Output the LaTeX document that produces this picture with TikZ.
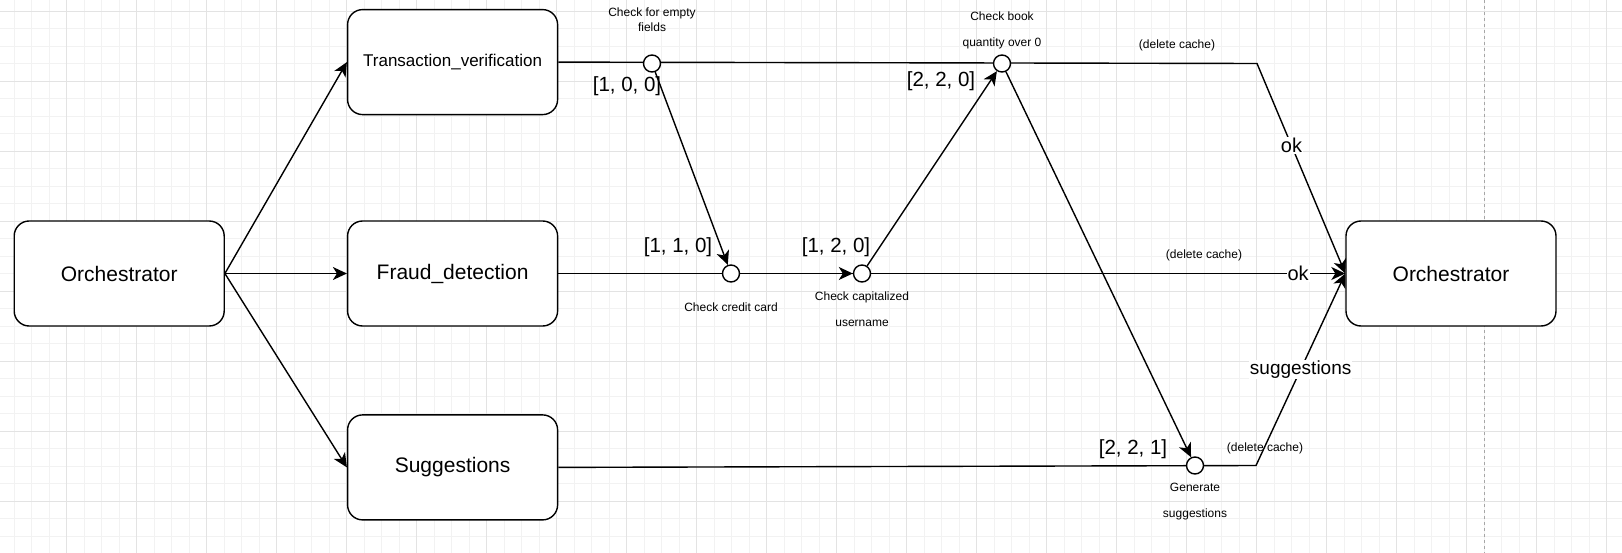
\documentclass[tikz,border=0pt]{standalone}
\usepackage{fontspec}
\setmainfont{Liberation Sans}
\usetikzlibrary{positioning,arrows.meta}

\begin{document}
\begin{tikzpicture}[
      x=1pt, y=-1pt,
      font=\fontsize{12}{15.3}\selectfont,
      caixa/.style={draw, line width=1.4pt, rounded corners=15pt, fill=white,
                    minimum width=210pt, minimum height=105pt, inner sep=0pt,
                    font=\fontsize{21}{25}\selectfont},
      passo/.style={draw, circle, line width=1.4pt, fill=white,
                    minimum size=17pt, inner sep=0pt},
      seta/.style={-{Stealth[length=14pt, width=13pt, inset=4pt]}, line width=1.4pt},
      nota/.style={align=center, inner sep=0pt},
      notab/.style={nota, font=\fontsize{12}{26}\selectfont},
      vetor/.style={inner sep=0pt, font=\fontsize{20.5}{24}\selectfont},
      rot/.style={fill=white, inner sep=1pt, font=\fontsize{20}{24}\selectfont},
      grelha/.style={line width=0.8pt, black!5},
      grelhaM/.style={line width=0.8pt, black!11}
    ]
    \useasboundingbox (0,0) rectangle (1622,553);
    \fill[white] (0,0) rectangle (1622,553);

    % grelha do fundo
    \foreach \i in {0,...,91} {\draw[grelha] (14.2+17.5*\i,0) -- ++(0,553);}
    \foreach \j in {0,...,30} {\draw[grelha] (0,11+17.5*\j) -- ++(1622,0);}
    \foreach \i in {0,...,22} {\draw[grelhaM] (66.7+70*\i,0) -- ++(0,553);}
    \foreach \j in {0,...,7} {\draw[grelhaM] (0,11+70*\j) -- ++(1622,0);}
    \draw[black!35, line width=0.8pt, dash pattern=on 3pt off 3pt] (1484,0) -- (1484,553);

    \node[caixa] (orqA) at (119.2,273.5) {Orchestrator};
    \node[caixa, right=122pt of orqA] (fraude) {Fraud\_detection};
    \node[caixa, above=105pt of fraude, font=\fontsize{17}{20}\selectfont] (transacao)
      {Transaction\_verification};
    \node[caixa, below=87.5pt of fraude] (sugestoes) {Suggestions};
    \node[caixa, right=787pt of fraude] (orqB) {Orchestrator};

    \foreach \alvo in {transacao, fraude, sugestoes} {\draw[seta] (orqA.east) -- (\alvo.west);}

    \coordinate (dobraA) at (1257,63.5);
    \coordinate (dobraB) at (1256,465.5);
    \draw[seta] (transacao.east) -- (dobraA) -- node[rot, pos=.39] {ok} (orqB.west);
    \draw[seta] (fraude.east) -- node[rot, pos=.94] {ok} (orqB.west);
    \draw[seta] (sugestoes.east) -- (dobraB)
      -- node[rot, pos=.5, font=\fontsize{19}{22}\selectfont] {suggestions} (orqB.west);

    % passos
    \node[passo] (vazio) at (652,63.5) {};
    \node[passo] (cartao) at (731,273.5) {};
    \node[passo] (maiusc) at (862,273.5) {};
    \node[passo] (qtd) at (1002,63.5) {};
    \node[passo] (gerar) at (1195,465.5) {};

    \foreach \x/\y in {vazio/cartao, cartao/maiusc, maiusc/qtd, qtd/gerar}
      {\draw[seta] (\x) -- (\y);}

    \node[nota] (tVazio) at (652,19.6) {Check for empty\\fields};
    \node[notab] (tQtd) at (1002,30.3) {Check book\\quantity over 0};
    \node[nota] (tCartao) at (731,307.7) {Check credit card};
    \node[notab] (tMaiusc) at (862,309) {Check capitalized\\username};
    \node[notab] (tGerar) at (1195,502) {Generate\\suggestions};
    \node[nota] (apagaA) at (1177,45.7) {(delete cache)};
    \node[nota] (apagaB) at (1204,255.7) {(delete cache)};
    \node[nota] (apagaC) at (1265,448) {(delete cache)};

    \node[vetor] (vA) at (627,86) {[1, 0, 0]};
    \node[vetor] (vB) at (678,247) {[1, 1, 0]};
    \node[vetor] (vC) at (836,247) {[1, 2, 0]};
    \node[vetor] (vD) at (941,81.7) {[2, 2, 0]};
    \node[vetor] (vE) at (1133,449) {[2, 2, 1]};
  \end{tikzpicture}
\end{document}
